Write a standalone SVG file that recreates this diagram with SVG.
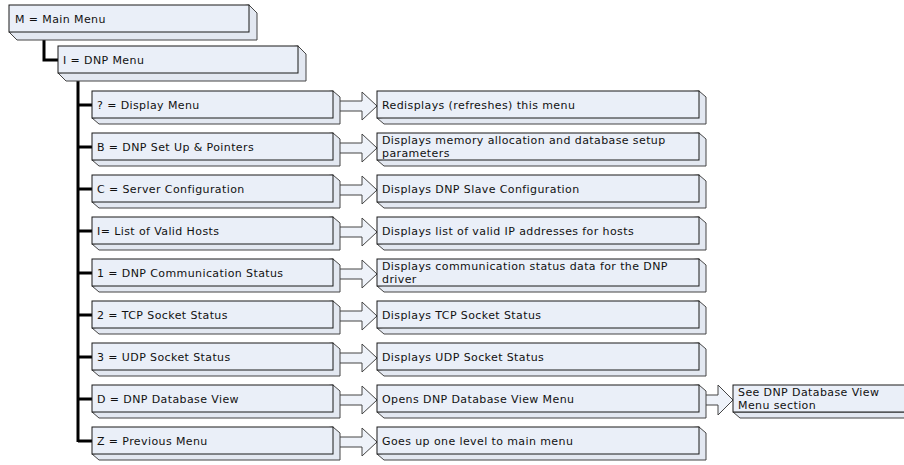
<svg xmlns="http://www.w3.org/2000/svg" width="904" height="465" viewBox="0 0 904 465">
<style>
.f{fill:#EAEFF8;stroke:#1a1a1a;stroke-width:1}
.s{fill:#E3E8F1;stroke:#444;stroke-width:1}
.a{fill:#EEF2F9;stroke:#444;stroke-width:1}
.c{fill:none;stroke:#000;stroke-width:3}
.t{font-family:"DejaVu Sans","Liberation Sans",sans-serif;font-size:11px;letter-spacing:0.4px;fill:#111}
</style>
<rect width="904" height="465" fill="#fff"/>
<g id="connectors">
<path class="c" d="M44,32 V60 H58"/>
<path class="c" d="M78,73 V442"/>
<path class="c" d="M78,105 H92 M78,147 H92 M78,189 H92 M78,231 H92 M78,273 H92 M78,315 H92 M78,357 H92 M78,399 H92 M78,441 H92"/>
</g>
<g id="arrows">
<polygon class="a" points="333,101 362,101 362,92 377,106 362,120 362,111 333,111"/>
<polygon class="a" points="333,143 362,143 362,134 377,148 362,162 362,153 333,153"/>
<polygon class="a" points="333,185 362,185 362,176 377,190 362,204 362,195 333,195"/>
<polygon class="a" points="333,227 362,227 362,218 377,232 362,246 362,237 333,237"/>
<polygon class="a" points="333,269 362,269 362,260 377,274 362,288 362,279 333,279"/>
<polygon class="a" points="333,311 362,311 362,302 377,316 362,330 362,321 333,321"/>
<polygon class="a" points="333,353 362,353 362,344 377,358 362,372 362,363 333,363"/>
<polygon class="a" points="333,395 362,395 362,386 377,400 362,414 362,405 333,405"/>
<polygon class="a" points="333,437 362,437 362,428 377,442 362,456 362,447 333,447"/>
<polygon class="a" points="700,395 718,395 718,385 733,400 718,415 718,405 700,405"/>
</g>
<g id="main-menu">
<polygon class="s" points="249,5 257,13 257,40 17,40 9,32"/>
<rect class="f" x="9" y="5" width="240" height="27"/>
<text class="t" x="15" y="23">M = Main Menu</text>
</g>
<g id="dnp-menu">
<polygon class="s" points="298,46 306,54 306,81 66,81 58,73"/>
<rect class="f" x="58" y="46" width="240" height="27"/>
<text class="t" x="63" y="64">I = DNP Menu</text>
</g>
<g id="display-menu">
<polygon class="s" points="333,91 340,97 340,124 99,124 92,118"/>
<rect class="f" x="92" y="91" width="241" height="27"/>
<text class="t" x="97" y="109">? = Display Menu</text>
</g>
<g id="setup-pointers">
<polygon class="s" points="333,133 340,139 340,166 99,166 92,160"/>
<rect class="f" x="92" y="133" width="241" height="27"/>
<text class="t" x="97" y="151">B = DNP Set Up &amp; Pointers</text>
</g>
<g id="server-config">
<polygon class="s" points="333,175 340,181 340,208 99,208 92,202"/>
<rect class="f" x="92" y="175" width="241" height="27"/>
<text class="t" x="97" y="193">C = Server Configuration</text>
</g>
<g id="valid-hosts">
<polygon class="s" points="333,217 340,223 340,250 99,250 92,244"/>
<rect class="f" x="92" y="217" width="241" height="27"/>
<text class="t" x="97" y="235">I= List of Valid Hosts</text>
</g>
<g id="comm-status">
<polygon class="s" points="333,259 340,265 340,292 99,292 92,286"/>
<rect class="f" x="92" y="259" width="241" height="27"/>
<text class="t" x="97" y="277">1 = DNP Communication Status</text>
</g>
<g id="tcp-status">
<polygon class="s" points="333,301 340,307 340,334 99,334 92,328"/>
<rect class="f" x="92" y="301" width="241" height="27"/>
<text class="t" x="97" y="319">2 = TCP Socket Status</text>
</g>
<g id="udp-status">
<polygon class="s" points="333,343 340,349 340,376 99,376 92,370"/>
<rect class="f" x="92" y="343" width="241" height="27"/>
<text class="t" x="97" y="361">3 = UDP Socket Status</text>
</g>
<g id="database-view">
<polygon class="s" points="333,385 340,391 340,418 99,418 92,412"/>
<rect class="f" x="92" y="385" width="241" height="27"/>
<text class="t" x="97" y="403">D = DNP Database View</text>
</g>
<g id="previous-menu">
<polygon class="s" points="333,427 340,433 340,460 99,460 92,454"/>
<rect class="f" x="92" y="427" width="241" height="27"/>
<text class="t" x="97" y="445">Z = Previous Menu</text>
</g>
<g id="desc-display">
<polygon class="s" points="699,91 706,97 706,124 384,124 377,118"/>
<rect class="f" x="377" y="91" width="322" height="27"/>
<text class="t" x="382" y="109">Redisplays (refreshes) this menu</text>
</g>
<g id="desc-setup">
<polygon class="s" points="699,133 706,139 706,166 384,166 377,160"/>
<rect class="f" x="377" y="133" width="322" height="27"/>
<text class="t" x="382" y="144">Displays memory allocation and database setup</text>
<text class="t" x="382" y="157">parameters</text>
</g>
<g id="desc-server">
<polygon class="s" points="699,175 706,181 706,208 384,208 377,202"/>
<rect class="f" x="377" y="175" width="322" height="27"/>
<text class="t" x="382" y="193">Displays DNP Slave Configuration</text>
</g>
<g id="desc-hosts">
<polygon class="s" points="699,217 706,223 706,250 384,250 377,244"/>
<rect class="f" x="377" y="217" width="322" height="27"/>
<text class="t" x="382" y="235">Displays list of valid IP addresses for hosts</text>
</g>
<g id="desc-comm">
<polygon class="s" points="699,259 706,265 706,292 384,292 377,286"/>
<rect class="f" x="377" y="259" width="322" height="27"/>
<text class="t" x="382" y="270">Displays communication status data for the DNP</text>
<text class="t" x="382" y="283">driver</text>
</g>
<g id="desc-tcp">
<polygon class="s" points="699,301 706,307 706,334 384,334 377,328"/>
<rect class="f" x="377" y="301" width="322" height="27"/>
<text class="t" x="382" y="319">Displays TCP Socket Status</text>
</g>
<g id="desc-udp">
<polygon class="s" points="699,343 706,349 706,376 384,376 377,370"/>
<rect class="f" x="377" y="343" width="322" height="27"/>
<text class="t" x="382" y="361">Displays UDP Socket Status</text>
</g>
<g id="desc-database">
<polygon class="s" points="699,385 706,391 706,418 384,418 377,412"/>
<rect class="f" x="377" y="385" width="322" height="27"/>
<text class="t" x="382" y="403">Opens DNP Database View Menu</text>
</g>
<g id="desc-previous">
<polygon class="s" points="699,427 706,433 706,460 384,460 377,454"/>
<rect class="f" x="377" y="427" width="322" height="27"/>
<text class="t" x="382" y="445">Goes up one level to main menu</text>
</g>
<g id="see-database-view">
<polygon class="s" points="733,412 740,418 912,418 912,412"/>
<rect class="f" x="733" y="385" width="180" height="27"/>
<text class="t" x="738" y="396">See DNP Database View</text>
<text class="t" x="738" y="409">Menu section</text>
</g>
</svg>
